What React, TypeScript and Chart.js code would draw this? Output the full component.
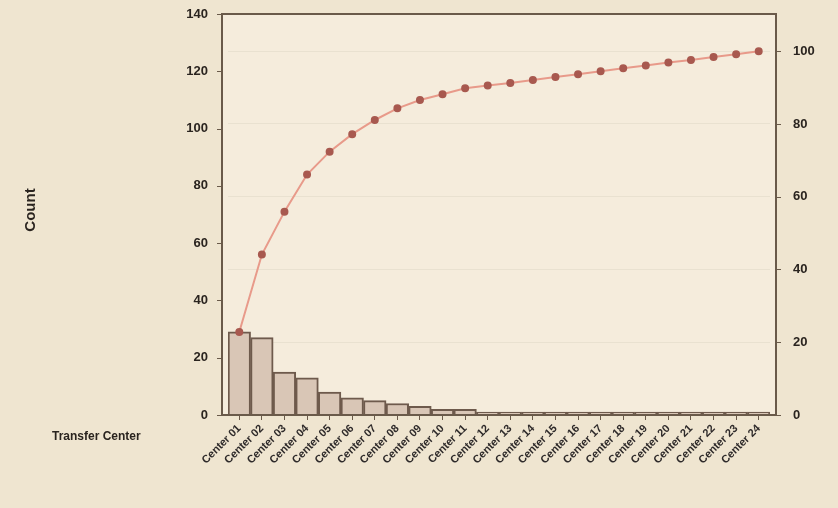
import React, { useEffect, useRef } from "react";
import { Chart, registerables } from "chart.js";

Chart.register(...registerables);

const categories = [
  "Center 01", "Center 02", "Center 03", "Center 04", "Center 05", "Center 06",
  "Center 07", "Center 08", "Center 09", "Center 10", "Center 11", "Center 12",
  "Center 13", "Center 14", "Center 15", "Center 16", "Center 17", "Center 18",
  "Center 19", "Center 20", "Center 21", "Center 22", "Center 23", "Center 24",
];
const counts = [29, 27, 15, 13, 8, 6, 5, 4, 3, 2, 2, 1, 1, 1, 1, 1, 1, 1, 1, 1, 1, 1, 1, 1];
const cumulativePercent = [
  22.8, 44.1, 55.9, 66.1, 72.4, 77.2, 81.1, 84.3, 86.6, 88.2, 89.8, 90.6,
  91.3, 92.1, 92.9, 93.7, 94.5, 95.3, 96.1, 96.9, 97.6, 98.4, 99.2, 100,
];
const countMax = 140;
const totalCount = 127;
const percentMax = (countMax / totalCount) * 100;
const countAxisTitle = "Count";
const percentAxisTitle = "Percent";
const categoryName = "Transfer Center";

const FONT = "'Liberation Sans', Arial, sans-serif";
const INSET = 6;
const FRAME = "#6a5a4a";

const isMajor = (v: number) => Math.abs(v % 20) < 1e-6;

const decorPlugin = {
  id: "decor",
  beforeDraw(chart: any) {
    const { ctx, chartArea: a } = chart;
    ctx.save();
    ctx.fillStyle = "#efe5d0";
    ctx.fillRect(0, 0, chart.width, chart.height);
    ctx.fillStyle = "#f5ecdc";
    ctx.fillRect(a.left - INSET, a.top, a.right - a.left + 2 * INSET, a.bottom - a.top);
    ctx.restore();
  },
  afterDatasetsDraw(chart: any) {
    const { ctx, chartArea: a, scales } = chart;
    const L = a.left - INSET;
    const R = a.right + INSET;
    ctx.save();
    ctx.strokeStyle = FRAME;
    ctx.lineWidth = 2;
    ctx.strokeRect(L, a.top, R - L, a.bottom - a.top);
    ctx.lineWidth = 1;
    ctx.beginPath();
    scales.yC.ticks.forEach((t: any) => {
      if (!isMajor(t.value)) return;
      const y = Math.round(scales.yC.getPixelForValue(t.value)) + 0.5;
      ctx.moveTo(L - 5, y);
      ctx.lineTo(L, y);
    });
    scales.yP.ticks.forEach((t: any) => {
      if (!isMajor(t.value)) return;
      const y = Math.round(scales.yP.getPixelForValue(t.value)) + 0.5;
      ctx.moveTo(R, y);
      ctx.lineTo(R + 5, y);
    });
    ctx.stroke();
    ctx.restore();
  },
  afterDraw(chart: any) {
    const { ctx } = chart;
    ctx.save();
    ctx.fillStyle = "#2a241f";
    ctx.font = `bold 15px ${FONT}`;
    ctx.textAlign = "center";
    ctx.textBaseline = "middle";
    ctx.translate(31, 210);
    ctx.rotate(-Math.PI / 2);
    ctx.fillText(countAxisTitle, 0, 0);
    ctx.restore();

    ctx.save();
    ctx.fillStyle = "#2a241f";
    ctx.font = `bold 15px ${FONT}`;
    ctx.textAlign = "center";
    ctx.textBaseline = "middle";
    ctx.translate(844, 215);
    ctx.rotate(-Math.PI / 2);
    ctx.fillText(percentAxisTitle, 0, 0);
    ctx.restore();

    ctx.save();
    ctx.fillStyle = "#2a241f";
    ctx.font = `bold 12px ${FONT}`;
    ctx.textAlign = "left";
    ctx.textBaseline = "middle";
    ctx.fillText(categoryName, 52, 437);
    ctx.restore();
  },
};

export default function App() {
  const ref = useRef<HTMLCanvasElement>(null);
  useEffect(() => {
    document.body.style.margin = "0";
    const chart = new Chart(ref.current!, {
      type: "bar",
      data: {
        labels: categories,
        datasets: [
          {
            type: "line",
            label: "Cumulative %",
            data: cumulativePercent,
            yAxisID: "yP",
            borderColor: "#e89a8a",
            borderWidth: 2,
            pointRadius: 3,
            pointBackgroundColor: "#a8594f",
            pointBorderColor: "#a8594f",
            tension: 0,
            order: 0,
          } as any,
          {
            type: "bar",
            label: "Count",
            data: counts,
            yAxisID: "yC",
            backgroundColor: "#d9c6b6",
            borderColor: "#6e5a4c",
            borderWidth: 2,
            barPercentage: 1,
            categoryPercentage: 1,
            order: 1,
          },
        ],
      },
      options: {
        animation: false,
        responsive: false,
        layout: { padding: { top: 14, left: 0, right: 0, bottom: 0 } },
        plugins: { legend: { display: false }, tooltip: { enabled: false } },
        scales: {
          x: {
            grid: { display: true, offset: false, drawOnChartArea: false, drawTicks: true, tickLength: 5, color: FRAME },
            border: { display: false },
            ticks: {
              minRotation: 45,
              maxRotation: 45,
              autoSkip: false,
              color: "#2e2a2a",
              font: { family: FONT, size: 11, weight: "bold" },
              padding: 2,
            },
            afterFit: (s: any) => { s.height = 93; },
          },
          yC: {
            position: "left",
            min: 0,
            max: countMax,
            ticks: { stepSize: 20, color: "#2a241f", font: { family: FONT, size: 13, weight: "bold" }, padding: 20 },
            grid: { drawOnChartArea: false, drawTicks: false },
            border: { display: false },
            afterFit: (s: any) => { s.width = 222 + INSET; s.paddingTop = 0; s.paddingBottom = 0; },
          },
          yP: {
            position: "right",
            min: 0,
            max: percentMax,
            ticks: {
              stepSize: 20,
              color: "#2a241f",
              font: { family: FONT, size: 13, weight: "bold" },
              padding: 23,
              callback: (v: any) => (isMajor(Number(v)) ? String(v) : ""),
            },
            grid: {
              drawOnChartArea: true,
              drawTicks: false,
              color: (c: any) => (c.tick && isMajor(c.tick.value) ? "rgba(200,190,170,0.25)" : "rgba(0,0,0,0)"),
            },
            border: { display: false },
            afterFit: (s: any) => { s.width = 62 + INSET; s.paddingTop = 0; s.paddingBottom = 0; },
          },
        },
      },
      plugins: [decorPlugin],
    });
    return () => chart.destroy();
  }, []);
  return (
    <div style={{ width: 838, height: 508 }}>
      <canvas ref={ref} width={838} height={508} style={{ display: "block" }} />
    </div>
  );
}
